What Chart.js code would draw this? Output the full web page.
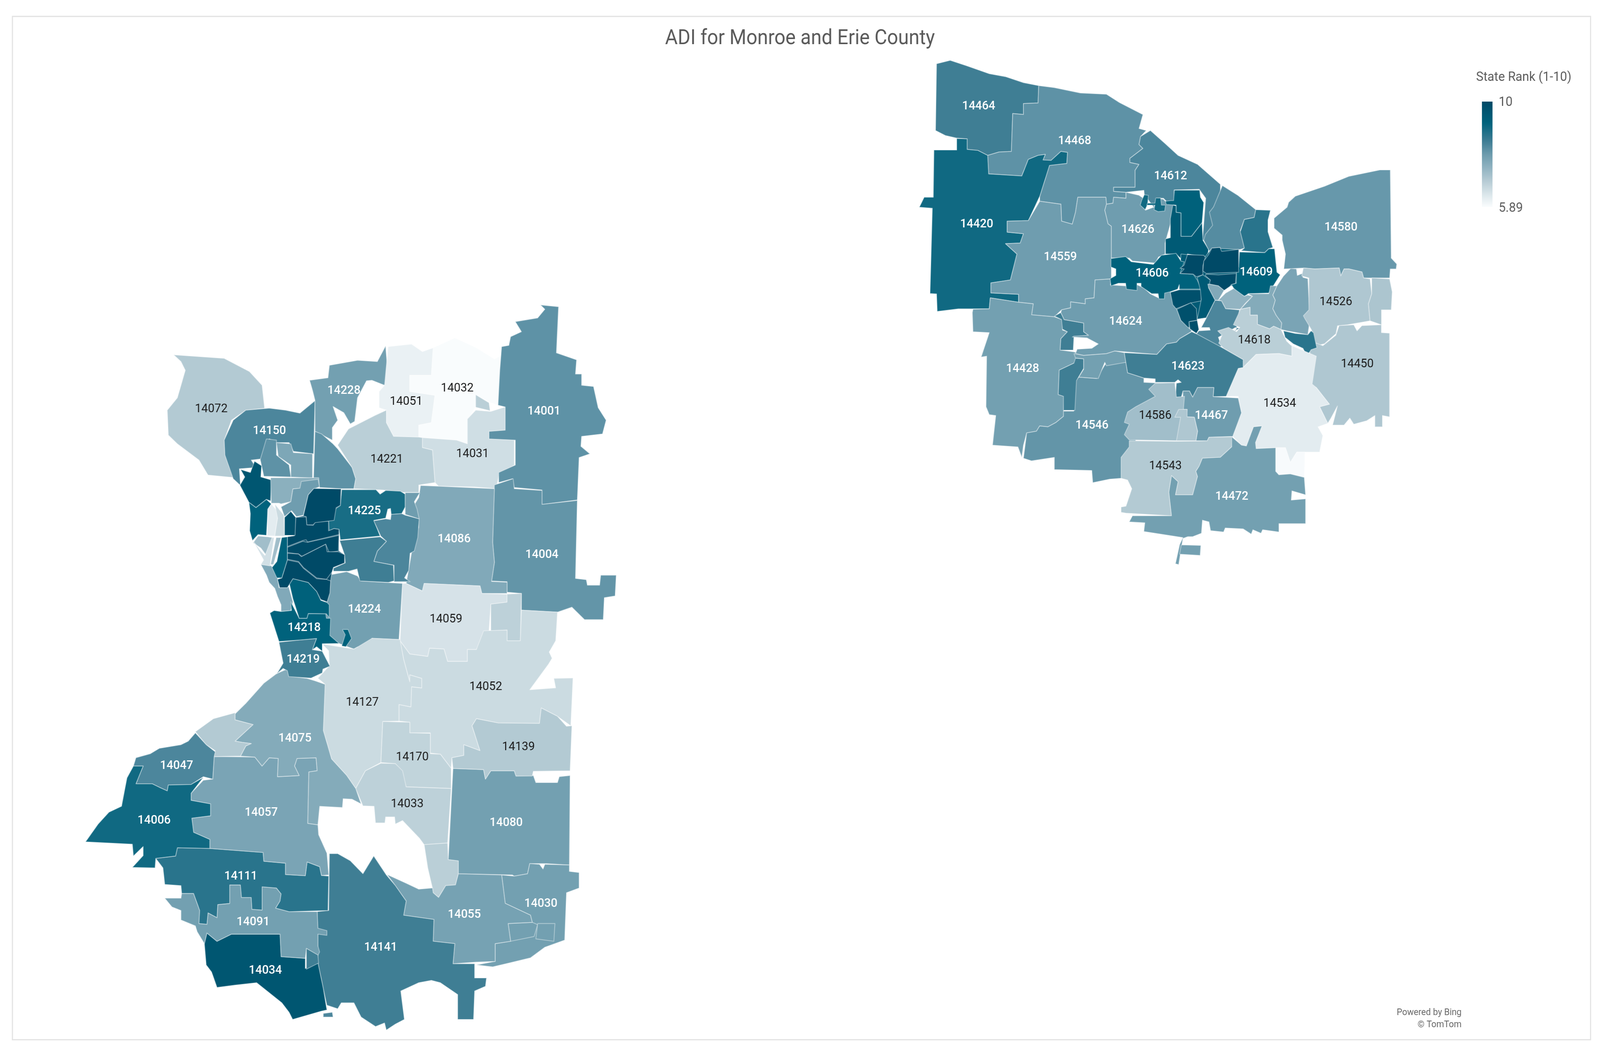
<!DOCTYPE html>
<html><head><meta charset="utf-8"><title>ADI for Monroe and Erie County</title>
<style>html,body{margin:0;padding:0;background:#fff;overflow:hidden;width:100vw;height:100vh}canvas{display:block;width:100vw!important;height:100vh!important}</style>
<script src="https://cdn.jsdelivr.net/npm/chart.js@4"></script></head>
<body><canvas id="c" width="4390" height="2695"></canvas>
<script>
// Each outline reads: a letter picks the reading frame, then x,y pairs.
const frames={O:[0,0,2.8,2.8],A:[200,750,.9885,.638],B:[200,1700,.9885,.606],C:[2500,130,.893,.51],D:[2500,800,.8929,.4464],E:[620,1150,.3827,.3827],F:[2950,430,.4464,.3333]};

const chartTitle="ADI for Monroe and Erie County";
const legendTitle="State Rank (1-10)";
const legendMax="10";
const legendMin="5.89";
const attribution=["Powered by Bing","© TomTom"];

const labelNames=["14072","14150","14228","14051","14032","14001","14221","14031","14225","14086","14004","14224","14059","14218","14219","14052","14127","14075","14139","14170","14047","14006","14057","14033","14080","14111","14030","14055","14091","14141","14034",
"14464","14468","14612","14420","14580","14626","14559","14606","14609","14526","14624","14618","14450","14623","14428","14534","14586","14467","14546","14543","14472"];
const labelX=[207,264,337,398,448,533,379,463,357,445,531,357,437,298,297,476,355,289,508,404,173,151,256,399,496,236,530,455,248,373,260,
959,1053,1147,957,1314,1115,1039,1129,1231,1309,1103,1229,1330,1164,1002,1254,1132,1187,1070,1142,1207];
const labelY=[374,394,357,367,355,376,420,415,467,493,507,557,566,574,603,628,642,675,683,692,700,750,743,735,752,801,826,836,843,866,887,
97,129,161,205,208,210,235,250,249,276,294,311,333,335,337,369,380,380,389,426,454];
const darkLabels=["14072","14051","14032","14221","14031","14059","14052","14127","14139","14170","14033","14526","14618","14450","14534","14586","14543"];

const rankStops=[5.89,6.3,6.92,7.43,7.95,8.46,9.18,10];
const rankColors=["#fbfdfe","#e0eaee","#b5cbd4","#90b3c1","#6c9bad","#3e7d94","#00627c","#004a67"];

const regionNames=[
"14072","14150","14150 a","14150 b","14228","14228 s","14051","14032","14032 a","14031","14221","14001","14004","14086","14224","14059","14059 e","14052","14127","14170","14033","14033 s","14080","14139","14030","14030 a","14030 b","14055","14141","14034","14034 t","14091","14091 t","14111","14057","14075","14075 w","14047","14006",
"coast a","coast b","coast c","coast d","lake a","lake b","lake c","lake d","north a","north b","core base","14225","east a","east b","east c","14219","14218","south a","south b","core c","core e","core f","core g","core a","core b","core d",
"14464","14468","14420","14559","14428","14546","west a","west b","west c","14624","14626","14612","city t1","city t2","city v1","city v2","city n","city e","city base","14609","14606","city d1","city d2","city d3","city d4","city d5","city s","city d6","city se","city k","city l","city m","city o","14580","14526","strip","14450","14618","city r","14534","pale","14623","14467","14586","narrow","14543","14472","14472 b"];
const regionRanks=[
6.95,8.3,8.1,7.7,7.85,8.1,6.15,5.92,6.85,6.55,6.85,8.1,8.05,7.65,7.85,6.45,6.8,6.6,6.6,6.75,6.8,6.85,7.85,6.95,7.85,7.85,7.85,7.8,8.45,9.6,8.3,7.85,8.45,8.7,7.75,7.6,6.95,8.3,9.0,
7.65,7.2,6.5,7.2,9.6,9.18,6.25,6.6,7.5,7.9,10,8.9,8.3,8.45,7.9,8.45,9.18,9.2,9.18,10,10,10,10,10,9.8,9.18,
8.45,8.1,9.0,7.9,7.85,8.05,8.45,8.45,7.85,7.9,7.9,8.3,9.0,9.0,9.2,9.45,8.2,8.7,9.45,9.18,9.18,10,10,10,9.8,9.8,9.45,9.8,8.3,7.4,7.6,7.65,7.75,8.0,7.0,7.05,7.0,6.85,8.7,6.25,5.95,8.45,7.9,7.2,7.0,6.95,7.85,7.85];

const regionOutlines=[
["A",280,248,420,262,490,315,525,370,532,462,480,470,440,510,420,590,422,650,445,740,375,730,350,670,290,605,265,570,262,470,290,420,312,310,300,275],
["A",465,772,445,745,422,650,420,590,445,510,480,470,545,462,590,470,630,482,672,432,668,645,612,635,600,600,565,600,545,585,525,665,495,670,508,700,462,705],
["A",537,585,565,590,565,650,600,690,605,738,530,735,520,668],
["A",565,600,605,605,612,640,665,645,665,742,605,738,605,690,570,655],
["A",657,350,708,340,712,290,790,270,845,275,868,212,875,340,865,370,830,350,815,352,790,420,782,515,770,525,752,480,722,455,735,510,720,540,720,590,672,555,672,430,665,390],
["A",672,555,690,565,722,605,735,625,775,700,785,745,780,785,745,785,685,780,668,742],
["A",875,215,940,205,970,235,1000,220,995,330,935,330,935,395,1005,410,995,520,960,530,960,578,890,575,870,520,870,470,850,460,850,395,865,370],
["A",1000,220,1060,180,1120,220,1170,265,1190,250,1195,310,1180,450,1160,440,1118,410,1118,455,1100,500,1095,605,1065,590,960,578,960,530,995,520,1005,410,935,395,935,330,995,330],
["A",1118,408,1155,440,1158,472,1118,458],
["A",970,580,1065,590,1095,605,1095,505,1118,470,1160,475,1200,457,1200,550,1155,555,1155,585,1225,590,1225,690,1182,735,1175,785,1115,778,1015,775,1005,760,998,630,970,620],
["A",735,610,765,545,840,490,870,470,870,520,890,575,960,578,970,580,970,620,998,630,1005,760,960,770,960,800,920,800,860,790,780,785,785,745,775,700],
["A",1298,48,1348,55,1342,240,1398,268,1395,325,1412,325,1412,370,1445,375,1458,460,1480,510,1470,565,1412,575,1410,615,1435,645,1405,660,1400,830,1302,848,1302,790,1225,780,1220,745,1182,760,1182,720,1228,690,1228,590,1155,585,1155,555,1200,550,1200,457,1180,450,1185,310,1190,215,1210,210,1215,175,1245,155,1228,115,1290,100,1310,65],
["A",1170,770,1222,745,1225,785,1302,792,1302,848,1400,832,1395,1145,1425,1150,1428,1172,1462,1172,1465,1132,1508,1132,1505,1215,1475,1222,1472,1310,1420,1310,1385,1260,1345,1280,1245,1272,1245,1205,1205,1200,1205,1158,1162,1155,1170,1080,1165,1000],
["A",965,772,1015,775,1170,785,1165,1000,1170,1080,1162,1157,1205,1160,1205,1205,1135,1205,1130,1175,975,1165,970,1195,925,1165,930,1125,945,1000,960,940,960,905,930,890,960,820],
["A",700,1155,715,1130,760,1118,790,1135,800,1155,915,1165,905,1390,830,1385,825,1410,790,1420,780,1428,755,1415,720,1395,700,1350,700,1260,700,1200],
["A",915,1165,925,1165,970,1195,975,1165,1130,1175,1135,1205,1205,1208,1205,1240,1160,1248,1155,1355,1120,1430,1095,1430,1095,1478,1040,1478,1030,1428,990,1425,985,1458,935,1448,908,1395],
["A",1205,1208,1245,1205,1242,1395,1205,1395,1205,1352,1160,1355,1160,1248,1205,1240],
["A",908,1395,935,1448,985,1458,990,1425,1030,1428,1040,1478,1095,1478,1095,1430,1120,1430,1140,1355,1205,1352,1205,1395,1242,1395,1245,1272,1345,1280,1340,1395,1322,1440,1330,1465,"B",1320,0,1268,108,1340,100,1335,60,1388,58,1382,260,1345,220,1300,185,1295,250,1180,248,1120,230,1108,260,1130,365,1085,340,1085,385,1052,395,1050,440,1020,380,992,375,992,290,935,290,935,245,905,240,905,170,938,180,940,95,968,100,968,60,935,45,"A",935,1560,918,1470],
["A",692,1408,780,1428,790,1420,830,1385,908,1390,918,1470,935,1560,"B",935,45,968,60,968,100,940,95,938,180,905,170,905,240,860,242,855,415,812,450,785,525,760,470,718,400,695,280,700,85,"A",680,1545,712,1495,710,1435],
["B",860,242,935,245,935,290,992,292,992,378,1020,380,1050,440,1050,525,925,518,910,450,895,420,855,415],
["B",785,525,812,450,855,418,895,420,915,450,925,518,1050,525,1040,755,975,762,962,735,915,660,895,675,893,645,868,645,866,670,840,670,836,600,805,598],
["B",975,762,1040,755,1042,825,1070,830,1070,885,1062,932,1035,935,1015,985,1000,965,998,945,985,860],
["B",1055,440,1140,445,1145,485,1160,450,1225,450,1230,472,1278,470,1285,500,1345,500,1350,475,1380,470,1378,848,1315,842,1268,842,1262,885,1225,895,1220,890,1070,885,1070,830,1042,825],
["B",1120,230,1180,248,1295,250,1300,185,1345,220,1370,262,1385,260,1380,450,1278,452,1275,472,1230,472,1225,450,1160,450,1145,485,1140,445,1055,440,1052,395,1085,385,1085,340,1130,365,1108,260],
["B",1190,890,1225,895,1262,885,1268,842,1295,845,1305,865,1310,845,1378,848,1378,875,1405,880,1405,945,1370,965,1365,1165,1310,1195,1270,1240,1210,1262,1165,1278,1148,1275,1120,1270,1172,1255,1172,1180,1215,1170,1208,1095,1275,1090,1270,1060,1200,1010],
["B",1208,1095,1275,1090,1290,1100,1280,1150,1215,1170],
["B",1290,1095,1338,1095,1335,1170,1285,1160],
["B",872,888,925,925,960,950,998,945,1000,965,1015,985,1035,935,1062,932,1070,885,1190,890,1200,1010,1270,1060,1275,1090,1208,1095,1215,1170,1172,1180,1172,1255,1120,1258,1055,1265,1060,1180,1000,1170,1002,1078,918,1060,925,1000,895,935],
["B",712,800,735,800,770,830,805,885,835,810,870,890,895,935,925,1000,918,1060,1002,1078,1000,1170,1060,1180,1055,1265,1115,1265,1115,1325,1148,1325,1145,1360,1115,1380,1112,1500,1068,1500,1068,1395,1020,1345,995,1335,960,1345,910,1380,920,1500,895,1520,870,1545,865,1515,840,1530,800,1490,780,1430,745,1430,735,1455,705,1440,695,1370,680,1260,680,1130,678,1045,710,1040],
["B",372,1135,400,1170,440,1140,575,1140,578,1235,645,1242,645,1285,680,1260,695,1370,705,1460,690,1465,610,1500,600,1470,580,1430,510,1345,450,1355,400,1365,385,1300,370,1270,365,1180],
["B",695,1475,720,1470,722,1490,695,1490],
["B",255,988,300,988,302,968,335,968,352,1040,350,1095,372,1098,375,1050,400,1070,402,1015,435,1010,435,932,465,932,468,985,495,985,497,1035,525,1038,525,940,565,945,578,970,575,1000,563,1030,600,1045,678,1045,680,1115,705,1125,705,1145,680,1140,680,1190,685,1215,680,1230,648,1200,645,1242,578,1235,575,1140,440,1140,400,1170,372,1135,365,1180,345,1130,340,1105,300,1080,300,1040,275,1025],
["B",648,1200,680,1228,682,1262,648,1288],
["B",230,820,285,810,290,775,380,778,528,795,530,832,590,840,590,888,645,893,650,835,685,855,690,892,710,895,708,1040,600,1045,563,1030,575,1000,578,970,565,945,525,940,525,1038,497,1035,495,985,468,985,465,932,435,932,435,1010,402,1015,400,1070,375,1050,372,1098,350,1095,352,1040,335,968,302,968,300,935,255,930,250,860],
["B",392,390,505,392,525,430,545,395,570,398,568,475,628,470,615,430,622,398,675,395,678,450,655,455,652,672,680,678,682,720,705,798,710,890,690,892,685,855,650,835,645,893,590,888,590,840,530,832,528,795,380,778,380,740,335,710,330,650,382,640,382,590,328,575,328,545,362,490,388,485],
["B",450,210,480,165,530,80,565,40,595,20,600,50,650,60,672,70,700,85,695,280,718,400,760,470,785,525,800,590,775,570,750,568,748,605,685,600,680,678,652,672,655,455,678,450,675,395,622,398,615,430,628,470,568,475,570,398,545,395,525,430,505,392,465,388,480,345,495,335,470,330,450,325,500,255,450,235],
["B",340,285,390,230,450,205,450,235,500,255,450,325,470,330,495,335,480,345,465,388,392,390,395,365,370,340],
["B",340,290,370,340,395,370,392,390,388,485,362,475,328,508,265,510,262,535,240,520,220,505,175,505,195,430,168,430,175,395,215,378,240,355,300,340,320,325],
["B",168,430,195,430,175,505,220,505,240,520,262,535,265,510,328,508,362,478,328,545,328,575,382,590,382,640,330,650,335,710,380,740,380,778,290,775,285,810,230,820,228,860,165,858,195,808,195,770,168,810,165,760,35,750,70,675,100,625,135,600,150,480],
["E",250,770,310,770,350,800,370,860,380,925,450,920,480,1020,465,1078,395,1085,395,1040,370,985,350,930,310,890,290,840],
["E",195,625,230,580,300,585,335,590,290,710,250,660],
["E",200,620,250,680,280,710,330,590,345,590,315,780,250,770,270,740],
["E",360,590,395,590,340,770,320,770],
["E",105,135,175,155,205,80,255,110,250,185,325,205,320,345,290,335,215,390,165,355,100,240,135,185],
["E",165,355,215,390,290,335,325,365,300,400,290,575,230,570,190,610,170,545,175,430],
["E",300,400,325,365,375,420,370,460,350,580,295,578],
["E",350,365,415,440,420,580,350,580,370,460],
["E",320,190,665,190,670,250,480,265,465,350,395,365,380,360,325,360],
["E",480,265,530,260,540,215,660,200,670,250,630,265,590,305,555,440,505,450,470,410,420,450,395,385,465,350],
["E",440,585,490,578,500,455,555,445,590,305,630,262,825,265,820,375,810,535,810,680,850,705,850,760,770,790,760,820,750,880,745,960,725,1020,680,1005,480,865,440,925,385,925,370,870,400,860,440,740],
["E",830,270,1075,270,1105,300,1145,275,1250,280,1285,300,1285,385,1260,430,1185,435,1180,395,1160,400,1145,460,1060,475,1105,580,820,605,810,535,775,530,740,545,735,460,790,395,820,375],
["E",1060,478,1145,465,1180,470,1185,435,1260,430,1285,440,1385,465,1375,590,1350,680,1320,695,1310,810,1280,860,1320,885,1205,885,1205,775,1060,750,1085,680,1150,615,1110,580],
["E",815,610,1105,585,1150,615,1085,680,1060,750,1200,775,1205,880,1165,890,960,880,940,800,880,815,770,815,770,795,855,760,850,705],
["E",1285,290,1390,290,1350,350,1370,400,1385,465,1285,435],
["E",380,1290,530,1275,650,1265,620,1340,690,1350,745,1450,695,1470,690,1495,610,1530,450,1520,440,1480,410,1465,365,1500,410,1430],
["E",315,1095,345,1078,395,1085,470,1078,465,1020,525,1130,580,1130,590,1098,715,1100,720,1130,750,1130,745,1245,810,1298,690,1300,690,1350,650,1320,620,1340,650,1265,530,1275,380,1285],
["E",455,900,480,865,590,890,650,950,680,1010,725,1025,740,1040,740,1125,720,1100,590,1098,580,1130,525,1130,480,1000],
["E",835,1205,875,1205,900,1265,860,1320,830,1315,855,1240],
["E",500,455,575,452,580,505,625,508,640,485,735,480,735,545,775,530,810,535,810,570,585,620,575,605,550,610,440,650,440,585,490,578],
["E",440,655,550,615,585,622,810,575,805,680,740,690,715,635,545,715,520,700,440,690],
["E",440,695,520,700,540,718,715,635,725,685,805,685,850,705,850,760,770,790,760,820,720,870,650,860,555,790,520,750,440,735],
["E",440,740,520,755,555,795,650,865,720,870,750,880,745,960,725,1020,680,1005,650,950,590,890,480,865,440,925,385,925,370,870,400,860],
["E",630,262,825,265,820,375,790,390,775,475,735,480,640,490,625,505,580,505,575,450,555,445,590,305],
["E",465,415,500,455,495,575,420,575,420,455],
["E",400,590,440,585,440,740,400,860,365,860,330,790,365,750],
["C",78,65,120,48,170,75,240,115,290,130,345,160,392,175,390,262,345,265,345,320,312,315,308,505,270,508,235,525,205,500,172,495,172,442,140,438,105,425,75,400],
["C",392,175,440,185,520,212,600,218,640,260,712,320,700,390,722,400,705,430,700,470,712,490,672,540,672,560,700,570,688,600,688,685,622,685,622,705,660,710,660,740,622,735,620,765,600,770,598,735,512,735,505,810,495,870,462,855,460,770,395,755,395,730,425,575,478,565,480,510,460,505,430,550,405,548,412,520,390,525,360,545,340,628,238,618,235,525,270,508,308,505,312,315,345,320,345,265,390,262],
["C",70,498,140,498,140,440,172,442,172,495,205,500,235,525,238,618,340,628,360,545,390,525,412,520,405,548,430,550,460,505,480,510,478,565,425,575,395,730,360,852,295,855,295,910,345,918,335,965,290,968,325,1020,305,1150,245,1165,245,1215,330,1222,330,1262,243,1240,240,1295,145,1295,80,1308,78,1220,58,1218,65,790,25,785,40,735,68,735],
["C",395,755,460,770,462,855,495,870,505,810,512,735,598,735,600,770,595,800,605,868,615,880,615,1145,565,1150,562,1240,535,1245,535,1270,490,1260,490,1290,462,1300,440,1335,370,1325,375,1270,330,1262,330,1222,245,1215,245,1165,305,1150,325,1020,290,968,335,965,345,918,295,910,295,855,360,852],
["C",243,1240,330,1262,375,1270,370,1325,440,1335,465,1350,"D",465,100,480,110,460,150,458,215,500,225,530,245,535,300,500,290,455,330,452,470,470,480,468,595,445,630,420,655,395,650,385,680,355,690,345,760,340,830,328,770,250,760,260,590,240,585,230,540,232,250,215,255,240,115,190,110,188,0,"C",190,1297,240,1295],
["D",500,565,505,390,515,370,570,378,600,285,660,285,665,345,715,375,715,400,770,405,770,480,710,540,680,630,690,700,690,770,670,830,670,920,645,950,610,955,558,975,555,905,440,900,440,830,370,850,345,835,355,690,385,680,395,650,420,655,445,630,468,595,468,565],
["D",505,262,530,265,530,320,508,390,503,560,468,560,468,480,452,470,455,330,500,290],
["D",440,20,460,0,470,40,530,60,530,110,545,130,500,140,498,215,458,215,460,150,480,110,465,95,462,40],
["D",500,235,530,245,600,235,625,220,655,230,660,285,600,305,595,285,575,378,515,370,530,325,530,265,505,260],
["C",462,1300,490,1290,490,1260,535,1270,535,1245,562,1240,565,1150,615,1145,612,1175,660,1180,665,1195,695,1175,715,1190,735,1220,760,1240,780,1210,795,1205,830,1350,862,1405,"D",860,110,825,150,815,170,785,180,755,240,625,220,600,235,530,245,505,235,510,210,555,205,575,180,540,145,495,140,500,135,545,130,530,110,530,60,470,40,460,0],
["C",600,770,620,765,622,735,660,740,660,710,700,725,718,745,705,770,720,800,745,785,755,740,775,745,790,770,805,770,805,780,800,850,780,965,780,1020,760,1035,750,1065,680,1055,670,1040,615,1040,615,880,605,868,595,800],
["C",735,400,780,465,820,525,880,570,950,670,950,840,930,950,895,950,905,740,885,695,808,698,808,770,790,765,775,740,755,740,745,785,725,740,718,745,715,700,660,710,622,705,622,685,688,685,688,600,700,570,672,560,672,540,712,490,700,470,705,430],
["F",425,205,450,210,445,280,430,320,400,285,410,245],
["F",495,230,525,230,530,285,555,285,550,330,510,335,485,320,490,285,440,285,445,270,490,270],
["F",610,170,765,170,770,225,790,265,780,420,715,525,650,525,650,345,620,340,620,285,560,280,555,255,590,250,605,250],
["F",600,285,620,290,620,340,650,345,650,525,715,525,780,420,785,555,820,625,815,665,800,685,690,660,670,720,620,660,555,660,555,545,585,535,585,390],
["F",905,135,1000,210,1110,320,1100,380,1040,395,1015,480,1040,615,1015,625,900,640,890,610,845,615,825,640,790,555,800,510,845,440,825,340,850,300],
["F",1110,320,1200,325,1185,400,1185,490,1215,610,1190,620,1165,650,1020,635,1040,615,1015,490,1040,395,1100,380],
["F",650,660,800,680,840,615,1005,625,1005,800,990,885,950,910,915,940,860,1015,805,1150,750,1160,745,1270,650,1170,585,955,640,935,725,815,645,810],
["F",1010,645,1165,650,1190,620,1225,620,1240,800,1260,820,1240,860,1190,960,1065,965,1040,985,985,945,960,895,990,885,992,760,1005,760],
["F",220,695,310,680,345,720,480,740,530,670,620,655,650,715,670,720,645,810,725,815,750,860,775,930,640,930,640,895,630,930,585,950,550,960,548,1005,515,1005,510,965,470,965,405,910,405,885,380,885,380,940,315,930,310,885,265,885,220,905,215,850,250,825,250,775,220,760],
["F",690,665,790,670,800,685,785,750,785,820,745,835,725,815,645,810,670,775,645,770,670,745],
["F",840,615,890,610,900,640,1005,625,1005,800,805,810,785,790,790,715,820,665],
["F",805,815,880,820,990,810,985,885,960,895,950,910,915,940,880,905,820,890,830,860,800,825],
["F",585,955,640,935,775,935,775,1020,715,1035,620,1080,600,1050],
["F",625,1085,710,1035,745,1080,750,1170,700,1180,700,1230,745,1270,690,1220,650,1170],
["F",750,840,785,820,830,860,820,920,860,1015,805,1150,750,1160,775,1010,770,940],
["F",700,1180,750,1170,760,1240,745,1270,705,1235],
["F",860,1015,900,1020,925,1080,1010,1090,990,1240,965,1265,1010,1230,985,1225,880,1300,900,1370,885,1370,745,1275,760,1250,830,1245,825,1225,775,1225,805,1155],
["F",880,1015,925,960,975,925,1040,985,1060,975,1090,985,1045,1040,1015,1085,925,1080,900,1020],
["F",1060,965,1190,965,1200,905,1240,905,1215,975,1230,1015,1215,1080,1235,1130,1270,1190,1265,1240,1220,1215,1195,1235,1120,1200,1120,1130,1075,1130,1075,1070,1015,1085,1090,985],
["F",815,890,880,905,915,940,880,1015,860,1015,820,920],
["F",1280,830,1325,770,1360,775,1365,825,1395,810,1400,840,1430,850,1440,1100,1405,1135,1440,1190,1430,1280,1300,1250,1265,1240,1270,1190,1235,1130,1215,1080,1230,1015,1215,975,1240,905],
["C",1115,840,1155,785,1160,760,1180,730,1270,680,1345,630,1440,598,1472,598,1475,1040,1492,1070,1490,1095,1472,1095,1470,1140,1390,1140,1385,1110,1345,1095,1330,1095,1320,1130,1315,1090,1240,1095,1205,1090,1145,1095,1150,1020,1140,950,1140,925,1115,890],
["C",1205,1090,1240,1095,1315,1090,1320,1130,1330,1095,1345,1095,1385,1110,1390,1140,1410,1145,1415,1220,1405,1270,1410,1355,1340,1375,1310,1380,1305,1420,1270,1470,1245,1480,1230,1400,1210,1345,1205,1330,1222,1300,1222,1140,1200,1130],
["C",1415,1140,1470,1145,1478,1210,1475,1300,1445,1300,1445,1375,1410,1355,1405,1270,1415,1220],
["D",1225,220,1245,175,1265,190,1305,130,1315,75,1360,70,1370,105,1385,75,1445,70,1445,115,1470,118,1470,598,1448,590,1448,655,1425,655,1425,590,1400,620,1360,640,1348,605,1330,645,1295,645,1310,535,1290,605,1280,635,1255,540,1285,525,1245,430,1220,410,1220,375,1220,320,1225,300],
["F",1015,1085,1075,1070,1075,1130,1120,1130,1120,1200,1195,1235,1220,1215,1265,1240,1300,1330,1325,1360,"D",1170,190,1170,250,1130,235,1060,240,1020,315,1020,270,960,205,945,175,955,130,942,105,975,85,1000,110,1010,85,990,70,1005,10],
["F",1280,1250,1350,1270,1430,1280,1450,1250,1465,1265,1485,1380,1450,1395,1425,1445,1400,1385,1340,1350,1290,1300],
["D",1170,190,1245,250,1232,410,1245,430,1285,525,1255,540,1280,635,1250,655,1265,705,1255,800,1210,800,1185,800,1165,860,1150,775,1120,775,1060,780,1058,745,1078,650,1052,655,1030,765,1015,760,988,710,1015,575,1005,480,968,480,1005,320,1020,315,1060,240,1130,235,1170,250],
["D",1120,775,1150,775,1165,860,1185,800,1210,800,1208,945,1165,925,1130,930,1120,910],
["D",862,110,880,125,945,190,1020,270,1020,315,1005,320,968,480,928,482,930,430,880,430,865,485,855,450,835,450,830,485,812,485,815,405,830,400,820,385,810,400,750,400,750,380,715,375,665,345,655,230,755,240,785,180,815,170,825,150],
["D",835,450,855,450,865,485,880,430,930,430,928,482,1005,490,1015,575,988,710,915,715,910,735,875,735,880,680,870,600,845,598,848,555,822,555,835,480],
["D",750,405,810,402,815,485,840,480,835,590,825,735,670,730,655,700,670,640,655,630,665,570,690,540,750,480,730,440],
["D",822,555,848,555,848,598,870,600,880,680,875,735,815,735,828,600,810,600],
["D",670,735,810,738,875,737,910,735,915,715,988,712,985,770,950,830,895,835,885,880,875,910,880,940,865,1045,812,1045,820,970,800,935,792,1030,800,1165,660,1150,645,1145,645,1115,660,1110,678,1010,665,960,645,950,645,830,670,770],
["D",985,712,1015,760,1030,765,1052,655,1078,650,1058,745,1060,780,1120,775,1120,910,1130,930,1165,925,1208,945,1212,1045,1170,1022,1168,1075,1212,1068,1212,1210,1130,1210,1130,1258,1080,1245,1075,1265,1050,1245,1045,1270,1020,1240,965,1235,960,1258,920,1250,915,1200,895,1190,892,1265,865,1285,850,1285,835,1295,822,1445,812,1440,825,1330,835,1290,715,1255,718,1205,670,1200,680,1165,800,1165,792,1030,800,935,820,970,812,1045,865,1045,880,940,875,910,885,880,895,835,950,830,985,770],
["D",830,1332,890,1335,888,1392,825,1385]
];

function hexToRgb(h){return [1,3,5].map(i=>parseInt(h.substr(i,2),16));}
function rankColor(r){
  for(let i=1;i<rankStops.length;i++){
    if(r<=rankStops[i]){
      const t=(r-rankStops[i-1])/(rankStops[i]-rankStops[i-1]);
      const a=hexToRgb(rankColors[i-1]),b=hexToRgb(rankColors[i]);
      return `rgb(${a.map((v,k)=>Math.round(v+(b[k]-v)*t)).join(",")})`;
    }
  }
  return rankColors[rankColors.length-1];
}
function toPoints(outline){
  const out=[];let f=frames.A;
  for(let i=0;i<outline.length;){
    if(typeof outline[i]==="string"){f=frames[outline[i]];i++;continue;}
    out.push({x:f[0]+outline[i]*f[2],y:f[1]+outline[i+1]*f[3]});i+=2;
  }
  out.push({...out[0]});
  return out;
}
const datasets=regionOutlines.map((o,i)=>({
  label:regionNames[i],
  data:toPoints(o),
  showLine:true,
  fill:"shape",
  tension:0,
  backgroundColor:rankColor(regionRanks[i]),
  borderColor:"rgba(255,255,255,0.4)",
  borderWidth:2.2,
  borderJoinStyle:"round",
  pointRadius:0,
  pointHoverRadius:0,
  clip:false,
  order:regionOutlines.length-i
}));

const annotate={
  id:"annotate",
  beforeDraw(chart){
    const {ctx,scales:{x,y}}=chart;
    ctx.save();
    ctx.strokeStyle="#e2e2e2";ctx.lineWidth=3;
    const fx=x.getPixelForValue(34),fy=y.getPixelForValue(42);
    ctx.strokeRect(fx,fy,x.getPixelForValue(4364)-fx,y.getPixelForValue(2661)-fy);
    ctx.restore();
  },
  afterDatasetsDraw(chart){
    const {ctx,scales:{x,y}}=chart;
    ctx.save();
    ctx.textBaseline="middle";ctx.textAlign="center";
    labelNames.forEach((n,i)=>{
      const dark=darkLabels.includes(n);
      ctx.font=(dark?"400":"500")+" 32px Roboto";
      ctx.fillStyle=dark?"#1c1c1c":"#ffffff";
      ctx.fillText(n,x.getPixelForValue(labelX[i]*2.8),y.getPixelForValue(labelY[i]*2.8));
    });
    const bx=x.getPixelForValue(4066),bw=29,by=y.getPixelForValue(260),bh=y.getPixelForValue(530)-by;
    const g=ctx.createLinearGradient(0,by,0,by+bh);
    for(let i=0;i<rankStops.length;i++){
      g.addColorStop((10-rankStops[i])/(10-5.89),rankColors[i]);
    }
    ctx.fillStyle=g;ctx.fillRect(bx,by,bw,bh);
    ctx.fillStyle="#5a5a5a";ctx.textAlign="left";ctx.font="34px Roboto";
    ctx.fillText(legendTitle,x.getPixelForValue(4050),y.getPixelForValue(198));
    ctx.fillText(legendMax,x.getPixelForValue(4112),y.getPixelForValue(262));
    ctx.fillText(legendMin,x.getPixelForValue(4112),y.getPixelForValue(533));
    ctx.textAlign="right";ctx.font="24px Roboto";ctx.fillStyle="#666666";
    ctx.fillText(attribution[0],x.getPixelForValue(4010),y.getPixelForValue(2592));
    ctx.fillText(attribution[1],x.getPixelForValue(4010),y.getPixelForValue(2623));
    ctx.restore();
  }
};

new Chart(document.getElementById("c"),{
  type:"scatter",
  data:{datasets},
  plugins:[annotate],
  options:{
    responsive:false,animation:false,devicePixelRatio:1,events:[],
    layout:{padding:0},
    plugins:{
      legend:{display:false},tooltip:{enabled:false},
      title:{display:true,text:chartTitle,color:"#595959",
        font:{family:"Roboto",size:53,weight:"400",lineHeight:1},
        padding:{top:73,bottom:2}}
    },
    scales:{
      x:{type:"linear",min:0,max:4390,display:false},
      y:{type:"linear",min:128,max:2695,reverse:true,display:false}
    }
  }
});
</script></body></html>
